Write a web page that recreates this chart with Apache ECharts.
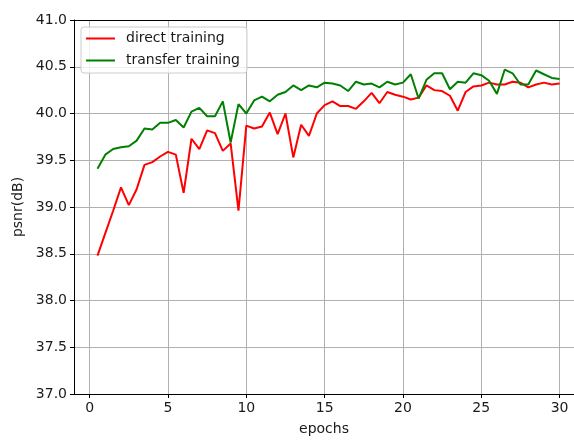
<!DOCTYPE html>
<html>
<head>
<meta charset="utf-8">
<script src="https://cdn.jsdelivr.net/npm/echarts@6/dist/echarts.min.js"></script>
<style>
  html, body { margin: 0; padding: 0; background: #fff; overflow: hidden; }
  #chart { width: 574px; height: 441px; }
</style>
</head>
<body>
<div id="chart"></div>
<script>
// Epoch positions (half-epoch evaluation points)
const epochs = [
  0.5, 1.0, 1.5, 2.0, 2.5, 3.0, 3.5, 4.0, 4.5, 5.0,
  5.5, 6.0, 6.5, 7.0, 7.5, 8.0, 8.5, 9.0, 9.5, 10.0,
  10.5, 11.0, 11.5, 12.0, 12.5, 13.0, 13.5, 14.0, 14.5, 15.0,
  15.5, 16.0, 16.5, 17.0, 17.5, 18.0, 18.5, 19.0, 19.5, 20.0,
  20.5, 21.0, 21.5, 22.0, 22.5, 23.0, 23.5, 24.0, 24.5, 25.0,
  25.5, 26.0, 26.5, 27.0, 27.5, 28.0, 28.5, 29.0, 29.5, 30.0
];

// PSNR (dB) when training from scratch
const directTraining = [
  38.48, 38.72, 38.96, 39.21, 39.02, 39.19, 39.45, 39.48, 39.54, 39.59,
  39.56, 39.15, 39.73, 39.62, 39.82, 39.79, 39.60, 39.68, 38.96, 39.87,
  39.84, 39.86, 40.01, 39.78, 40.00, 39.53, 39.88, 39.76, 40.00, 40.09,
  40.13, 40.08, 40.08, 40.05, 40.13, 40.22, 40.11, 40.23, 40.20, 40.18,
  40.15, 40.17, 40.30, 40.25, 40.24, 40.19, 40.03, 40.23, 40.29, 40.30,
  40.33, 40.31, 40.31, 40.34, 40.33, 40.28, 40.31, 40.33, 40.31, 40.32
];

// PSNR (dB) when starting from pretrained weights
const transferTraining = [
  39.41, 39.56, 39.62, 39.64, 39.65, 39.71, 39.84, 39.83, 39.90, 39.90,
  39.93, 39.85, 40.02, 40.06, 39.97, 39.97, 40.13, 39.69, 40.10, 40.00,
  40.14, 40.18, 40.13, 40.20, 40.23, 40.30, 40.25, 40.30, 40.28, 40.33,
  40.32, 40.30, 40.24, 40.34, 40.31, 40.32, 40.28, 40.34, 40.31, 40.33,
  40.42, 40.16, 40.36, 40.43, 40.43, 40.26, 40.34, 40.33, 40.43, 40.41,
  40.35, 40.21, 40.47, 40.43, 40.31, 40.31, 40.46, 40.42, 40.38, 40.37
];

const seriesNames = ['direct training', 'transfer training'];
const seriesColors = ['#ff0000', '#008000'];

const FONT = 'DejaVu Sans';
const TEXT = '#1a1a1a';
const FS = 14;

// Visible epoch window (the frame runs past the right edge of the canvas)
const xMin = -1.0;
const xMax = 30.92;

function pairs(ys) {
  return epochs.map((x, i) => [x, ys[i]]);
}

const chart = echarts.init(document.getElementById('chart'), null, {
  renderer: 'canvas', width: 574, height: 441
});

chart.setOption({
  animation: false,
  backgroundColor: '#ffffff',
  textStyle: { fontFamily: FONT },
  grid: { left: 74, top: 20, width: 500, height: 379, containLabel: false },
  legend: {
    data: seriesNames,
    orient: 'vertical',
    left: 81,
    top: 27,
    icon: 'rect',
    itemWidth: 29,
    itemHeight: 2,
    itemGap: 7,
    padding: [4, 7, 5, 5],
    backgroundColor: 'rgba(255,255,255,0.8)',
    borderColor: '#cccccc',
    borderWidth: 1,
    borderRadius: 3,
    textStyle: {
      fontFamily: FONT,
      fontSize: FS,
      color: TEXT,
      lineHeight: 15,
      padding: [0, 0, 0, 6]
    }
  },
  xAxis: [
    {
      type: 'value',
      min: xMin,
      max: xMax,
      name: 'epochs',
      nameLocation: 'middle',
      nameGap: 28,
      nameTextStyle: { fontFamily: FONT, fontSize: FS, color: TEXT },
      axisLine: { show: true, onZero: false, lineStyle: { color: '#000', width: 1 } },
      axisTick: { show: true, inside: false, length: 4, lineStyle: { color: '#000', width: 1 } },
      axisLabel: {
        showMinLabel: false,
        showMaxLabel: false,
        margin: 7,
        fontFamily: FONT,
        fontSize: FS,
        color: TEXT
      },
      splitLine: { show: true, lineStyle: { color: '#b0b0b0', width: 1 } }
    },
    {
      type: 'value',
      position: 'top',
      min: xMin,
      max: xMax,
      axisLine: { show: true, onZero: false, lineStyle: { color: '#000', width: 1 } },
      axisTick: { show: false },
      axisLabel: { show: false },
      splitLine: { show: false }
    }
  ],
  yAxis: {
    type: 'value',
    min: 37,
    max: 41,
    interval: 0.5,
    name: 'psnr(dB)',
    nameLocation: 'middle',
    nameGap: 45,
    nameRotate: 90,
    nameTextStyle: { fontFamily: FONT, fontSize: FS, color: TEXT },
    axisLine: { show: true, onZero: false, lineStyle: { color: '#000', width: 1 } },
    axisTick: { show: true, inside: false, length: 4, lineStyle: { color: '#000', width: 1 } },
    axisLabel: {
      margin: 7,
      fontFamily: FONT,
      fontSize: FS,
      color: TEXT,
      formatter: v => v.toFixed(1)
    },
    splitLine: { show: true, lineStyle: { color: '#b0b0b0', width: 1 } }
  },
  series: [
    {
      name: seriesNames[0],
      type: 'line',
      xAxisIndex: 0,
      data: pairs(directTraining),
      showSymbol: false,
      symbol: 'none',
      color: seriesColors[0],
      lineStyle: { color: seriesColors[0], width: 2 },
      z: 3
    },
    {
      name: seriesNames[1],
      type: 'line',
      xAxisIndex: 0,
      data: pairs(transferTraining),
      showSymbol: false,
      symbol: 'none',
      color: seriesColors[1],
      lineStyle: { color: seriesColors[1], width: 2 },
      z: 3
    }
  ]
});
</script>
</body>
</html>
